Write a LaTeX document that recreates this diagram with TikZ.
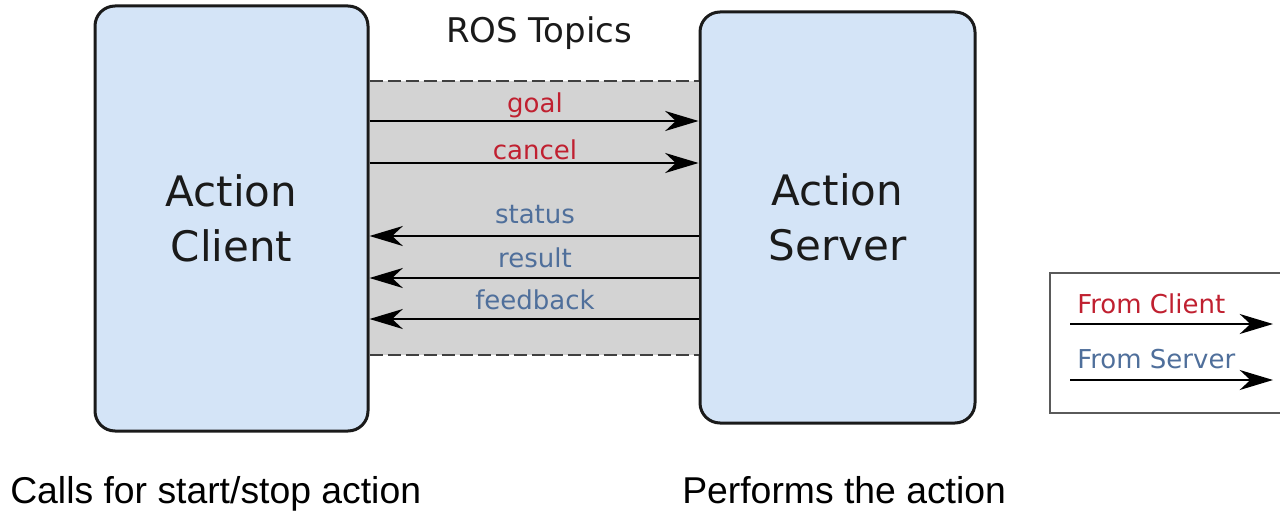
\documentclass[tikz,border=0pt]{standalone}
\usepackage{fontspec}
\setmainfont{DejaVu Sans}
\newfontfamily\captionfont{Liberation Sans}
\usetikzlibrary{arrows.meta}
\definecolor{boxfill}{RGB}{212,228,247}
\definecolor{bandfill}{RGB}{211,211,211}
\definecolor{edge}{RGB}{26,26,26}
\definecolor{clientred}{RGB}{192,32,48}
\definecolor{serverblue}{RGB}{79,111,155}
\definecolor{dashgray}{RGB}{64,64,64}
\definecolor{legendgray}{RGB}{90,90,90}

\begin{document}
\begin{tikzpicture}[x=0.75pt,y=-0.75pt,
  actor/.style={draw=edge, line width=2.25pt, fill=boxfill, rounded corners=15pt,
    align=center, font=\fontsize{31.5}{41.25}\selectfont, text=edge, inner sep=0},
  msg/.style={draw=black, line width=1.5pt, -{Stealth[length=25pt,width=15pt,inset=8pt]}},
  topic/.style={font=\fontsize{19.5}{23}\selectfont, anchor=base, inner sep=0},
  fromclient/.style={topic, text=clientred},
  fromserver/.style={topic, text=serverblue},
  border/.style={draw=dashgray, line width=1.5pt, dash pattern=on 9.75pt off 3.75pt},
  caption/.style={font=\captionfont\fontsize{28}{32}\selectfont, anchor=base west, inner sep=0},
]
\useasboundingbox (0,0) rectangle (1280,510);
\clip (0,0) rectangle (1280,510);

% the two participants
\node[actor, minimum width=204.75pt, minimum height=318.75pt] (client) at (231.5,218.5) {Action\\Client};
\node[actor, minimum width=206.25pt, minimum height=308.25pt] (server) at (837.5,217.5) {Action\\Server};

% shaded topic channel between them
\coordinate (bandtop) at (0,81);
\coordinate (bandbot) at (0,355);
\fill[bandfill] (client.east |- bandtop) rectangle (server.west |- bandbot);
\draw[border] (client.east |- bandtop) -- (server.west |- bandtop);
\draw[border] (client.east |- bandbot) -- (server.west |- bandbot);

\node[font=\fontsize{25.5}{30}\selectfont, anchor=base, inner sep=0, text=edge] (title) at (539,43) {ROS Topics};

% client -> server topics
\node[fromclient] (goal) at (535,113) {goal};
\coordinate (goalY) at (0,121);
\draw[msg] (client.east |- goalY) -- (server.west |- goalY);

\node[fromclient] (cancel) at (535,159) {cancel};
\coordinate (cancelY) at (0,163);
\draw[msg] (client.east |- cancelY) -- (server.west |- cancelY);

% server -> client topics
\node[fromserver] (status) at (535,223) {status};
\coordinate (statusY) at (0,236);
\draw[msg] (server.west |- statusY) -- (client.east |- statusY);

\node[fromserver] (result) at (535,267) {result};
\coordinate (resultY) at (0,278);
\draw[msg] (server.west |- resultY) -- (client.east |- resultY);

\node[fromserver] (feedback) at (535,309) {feedback};
\coordinate (feedbackY) at (0,319);
\draw[msg] (server.west |- feedbackY) -- (client.east |- feedbackY);

% legend
\node[draw=legendgray, line width=1.5pt, minimum width=180pt, minimum height=105pt, inner sep=0] (legend) at (1170,343) {};
\node[fromclient, anchor=base west] (lgclient) at (1077,313) {From Client};
\coordinate (lgclientA) at (1070,324);
\coordinate (lgclientB) at (1273,324);
\draw[msg] (lgclientA) -- (lgclientB);
\node[fromserver, anchor=base west] (lgserver) at (1077,368) {From Server};
\coordinate (lgserverA) at (1070,380);
\coordinate (lgserverB) at (1273,380);
\draw[msg] (lgserverA) -- (lgserverB);

% captions
\node[caption] (clientcap) at (10,503) {Calls for start/stop action};
\node[caption] (servercap) at (682,503) {Performs the action};
\end{tikzpicture}
\end{document}
